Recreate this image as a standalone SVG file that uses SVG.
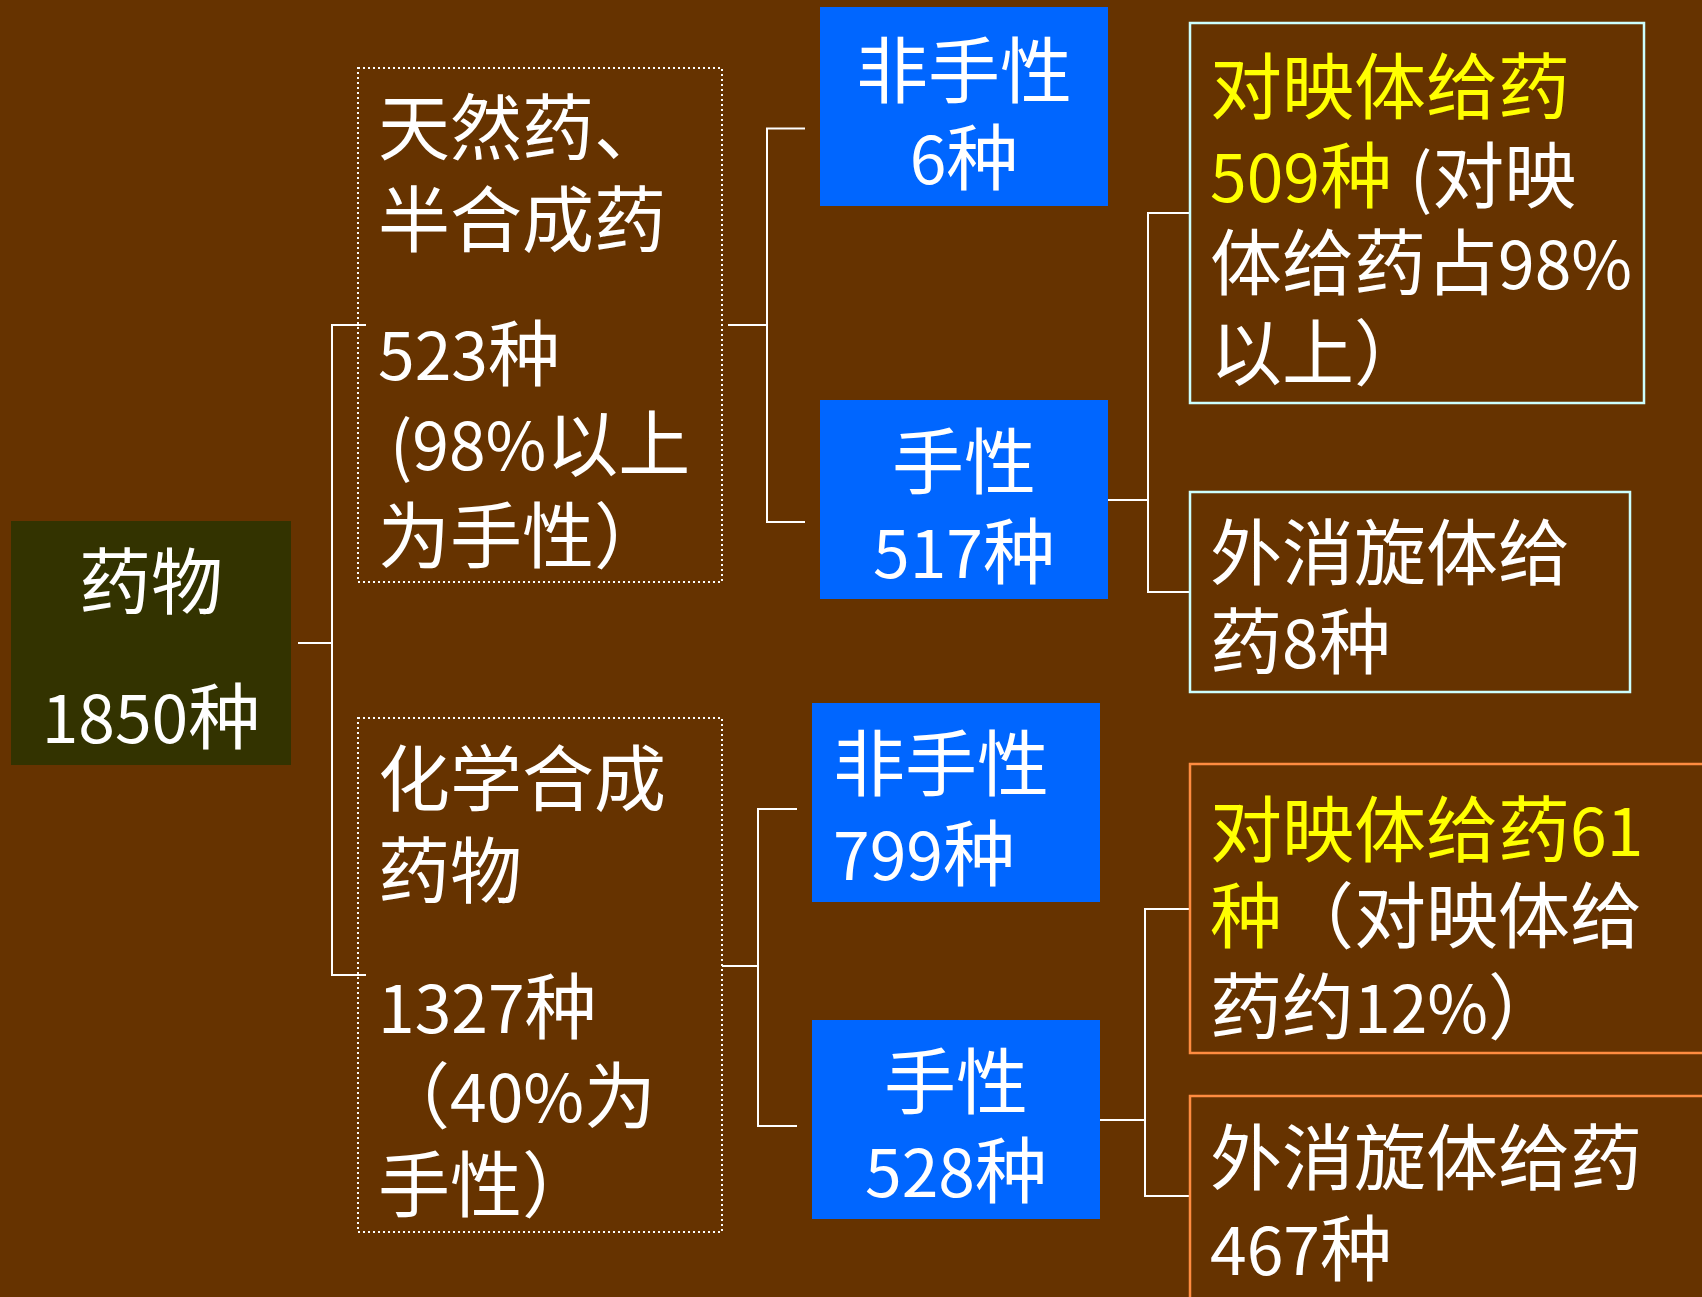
<svg xmlns="http://www.w3.org/2000/svg" width="1702" height="1297" viewBox="0 0 1702 1297">
<style>
  text { font-family: "Noto Sans CJK SC", "Liberation Sans", sans-serif; font-size: 72px; fill: #FFFFFF; }
  .n { font-size: 66px; }
  .y { fill: #FFFF00; }
  .mid { text-anchor: middle; }
  .blue { fill: #0066FF; }
  .dot { fill: none; stroke: #FFFFFF; stroke-width: 2; stroke-dasharray: 2 3; }
  .cyan { fill: none; stroke: #CCFFFF; stroke-width: 2.5; }
  .orange { fill: none; stroke: #FF8C40; stroke-width: 2.5; }
  .conn { fill: none; stroke: #FFFFFF; stroke-width: 2; }
</style>
<rect x="0" y="0" width="1702" height="1297" fill="#663300"/>

<g id="connectors">
  <path class="conn" d="M298,643 H332 M366,325 H332 V975 H366"/>
  <path class="conn" d="M728,325 H767 M805,128.5 H767 V522 H805"/>
  <path class="conn" d="M1108,500 H1148 M1190,213 H1148 V592 H1190"/>
  <path class="conn" d="M722,966 H758 M797,809 H758 V1126 H797"/>
  <path class="conn" d="M1100,1120 H1145 M1190,909 H1145 V1196 H1190"/>
</g>

<g id="root">
  <rect x="11" y="521" width="280" height="244" fill="#333300"/>
  <text class="mid" x="151" y="608">药物</text>
  <text class="mid" x="151" y="743"><tspan class="n">1850</tspan>种</text>
</g>

<g id="natural">
  <rect class="dot" x="358" y="68" width="364" height="514"/>
  <text x="378" y="154">天然药、</text>
  <text x="378" y="246">半合成药</text>
  <text x="378" y="380"><tspan class="n">523</tspan>种</text>
  <text x="390" y="470"><tspan class="n">(98%</tspan>以上</text>
  <text x="378" y="562">为手性）</text>
</g>

<g id="chemical">
  <rect class="dot" x="358" y="718" width="364" height="514"/>
  <text x="378" y="805">化学合成</text>
  <text x="378" y="897">药物</text>
  <text x="378" y="1033"><tspan class="n">1327</tspan>种</text>
  <text x="378" y="1122">（<tspan class="n">40%</tspan>为</text>
  <text x="378" y="1211">手性）</text>
</g>

<g id="nonchiral1">
  <rect class="blue" x="820" y="7" width="288" height="199"/>
  <text class="mid" x="964" y="97">非手性</text>
  <text class="mid" x="964" y="184"><tspan class="n">6</tspan>种</text>
</g>

<g id="chiral1">
  <rect class="blue" x="820" y="400" width="288" height="199"/>
  <text class="mid" x="964" y="488">手性</text>
  <text class="mid" x="964" y="578"><tspan class="n">517</tspan>种</text>
</g>

<g id="nonchiral2">
  <rect class="blue" x="812" y="703" width="288" height="199"/>
  <text x="833" y="790">非手性</text>
  <text x="833" y="880"><tspan class="n">799</tspan>种</text>
</g>

<g id="chiral2">
  <rect class="blue" x="812" y="1020" width="288" height="199"/>
  <text class="mid" x="956" y="1108">手性</text>
  <text class="mid" x="956" y="1197"><tspan class="n">528</tspan>种</text>
</g>

<g id="enantiomer1">
  <rect class="cyan" x="1190" y="23" width="454" height="380"/>
  <text class="y" x="1210" y="113">对映体给药</text>
  <text x="1210" y="202"><tspan class="y"><tspan class="n">509</tspan>种</tspan><tspan class="n" x="1410">(</tspan><tspan>对映</tspan></text>
  <text x="1210" y="289">体给药占<tspan class="n">98%</tspan></text>
  <text x="1210" y="379">以上）</text>
</g>

<g id="racemate1">
  <rect class="cyan" x="1190" y="492" width="440" height="200"/>
  <text x="1210" y="579">外消旋体给</text>
  <text x="1210" y="668">药<tspan class="n">8</tspan>种</text>
</g>

<g id="enantiomer2">
  <rect class="orange" x="1190" y="764" width="530" height="289"/>
  <text x="1210" y="856" class="y">对映体给药<tspan class="n">61</tspan></text>
  <text x="1210" y="942"><tspan class="y">种</tspan><tspan>（对映体给</tspan></text>
  <text x="1210" y="1033">药约<tspan class="n">12%</tspan>）</text>
</g>

<g id="racemate2">
  <rect class="orange" x="1190" y="1096" width="530" height="220"/>
  <text x="1210" y="1184">外消旋体给药</text>
  <text x="1210" y="1275"><tspan class="n">467</tspan>种</text>
</g>
</svg>
